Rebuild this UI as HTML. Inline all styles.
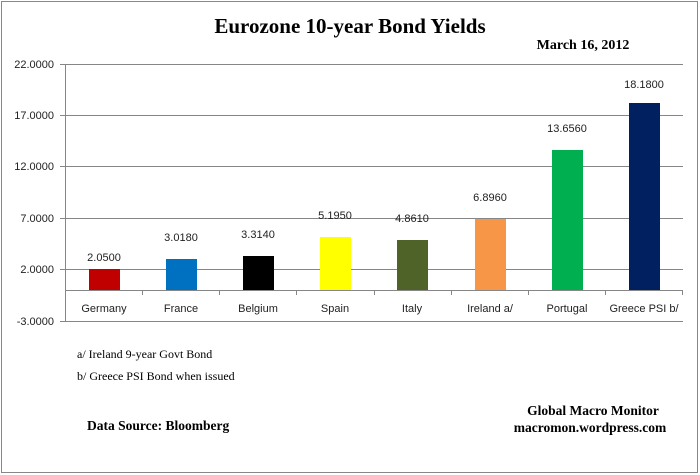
<!DOCTYPE html><html><head><style>body{margin:0;background:#fff}svg{display:block}</style></head><body>
<svg width="700" height="475" xmlns="http://www.w3.org/2000/svg">
<rect x="1.5" y="1.5" width="696" height="471" fill="#fff" stroke="#888"/>
<text x="350" y="33" text-anchor="middle" font-family="Liberation Serif" font-weight="bold" font-size="21">Eurozone 10-year Bond Yields</text>
<text x="583" y="49" text-anchor="middle" font-family="Liberation Serif" font-weight="bold" font-size="14">March 16, 2012</text>
<g stroke="#868686" stroke-width="1">
<line x1="65" y1="64.5" x2="683" y2="64.5"/><line x1="65" y1="115.5" x2="683" y2="115.5"/>
<line x1="65" y1="166.5" x2="683" y2="166.5"/><line x1="65" y1="218.5" x2="683" y2="218.5"/>
<line x1="65" y1="269.5" x2="683" y2="269.5"/><line x1="65" y1="290.5" x2="683" y2="290.5"/>
<line x1="65" y1="321.5" x2="683" y2="321.5"/><line x1="65.5" y1="64" x2="65.5" y2="322"/>
<line x1="60" y1="64.5" x2="65" y2="64.5"/><line x1="60" y1="115.5" x2="65" y2="115.5"/><line x1="60" y1="166.5" x2="65" y2="166.5"/><line x1="60" y1="218.5" x2="65" y2="218.5"/><line x1="60" y1="269.5" x2="65" y2="269.5"/><line x1="60" y1="321.5" x2="65" y2="321.5"/>
<line x1="142.5" y1="290" x2="142.5" y2="295"/><line x1="219.5" y1="290" x2="219.5" y2="295"/><line x1="296.5" y1="290" x2="296.5" y2="295"/><line x1="374.5" y1="290" x2="374.5" y2="295"/><line x1="451.5" y1="290" x2="451.5" y2="295"/><line x1="528.5" y1="290" x2="528.5" y2="295"/><line x1="605.5" y1="290" x2="605.5" y2="295"/><line x1="682.5" y1="290" x2="682.5" y2="295"/>
</g>
<g font-family="Liberation Sans" font-size="11" fill="#222" text-anchor="end">
<text x="54" y="68">22.0000</text><text x="54" y="119">17.0000</text><text x="54" y="170">12.0000</text><text x="54" y="222">7.0000</text><text x="54" y="273">2.0000</text><text x="54" y="325">-3.0000</text>
</g>
<g>
<rect x="89" y="269" width="31" height="21" fill="#c00000"/>
<rect x="166" y="259" width="31" height="31" fill="#0070c0"/>
<rect x="243" y="256" width="31" height="34" fill="#000"/>
<rect x="320" y="237" width="31" height="53" fill="#ffff00"/>
<rect x="397" y="240" width="31" height="50" fill="#4f6228"/>
<rect x="475" y="219" width="31" height="71" fill="#f79646"/>
<rect x="552" y="150" width="31" height="140" fill="#00b050"/>
<rect x="629" y="103" width="31" height="187" fill="#002060"/>
</g>
<g font-family="Liberation Sans" font-size="11" fill="#222" text-anchor="middle">
<text x="104" y="261">2.0500</text><text x="181" y="241">3.0180</text><text x="258" y="238">3.3140</text><text x="335" y="219">5.1950</text><text x="412" y="222">4.8610</text><text x="490" y="201">6.8960</text><text x="567" y="132">13.6560</text><text x="644" y="88">18.1800</text>
<text x="104" y="312">Germany</text><text x="181" y="312">France</text><text x="258" y="312">Belgium</text><text x="335" y="312">Spain</text><text x="412" y="312">Italy</text><text x="490" y="312">Ireland  a/</text><text x="567" y="312">Portugal</text><text x="644" y="312">Greece PSI b/</text>
</g>
<g font-family="Liberation Serif" font-size="12" fill="#000">
<text x="77" y="358">a/  Ireland 9-year Govt Bond</text>
<text x="77" y="380">b/  Greece PSI Bond  when issued</text>
</g>
<g font-family="Liberation Serif" font-weight="bold" font-size="13.5" fill="#000">
<text x="87" y="430">Data Source:  Bloomberg</text>
<text x="593" y="415" text-anchor="middle">Global Macro Monitor</text>
<text x="590" y="432" text-anchor="middle">macromon.wordpress.com</text>
</g>
</svg></body></html>
